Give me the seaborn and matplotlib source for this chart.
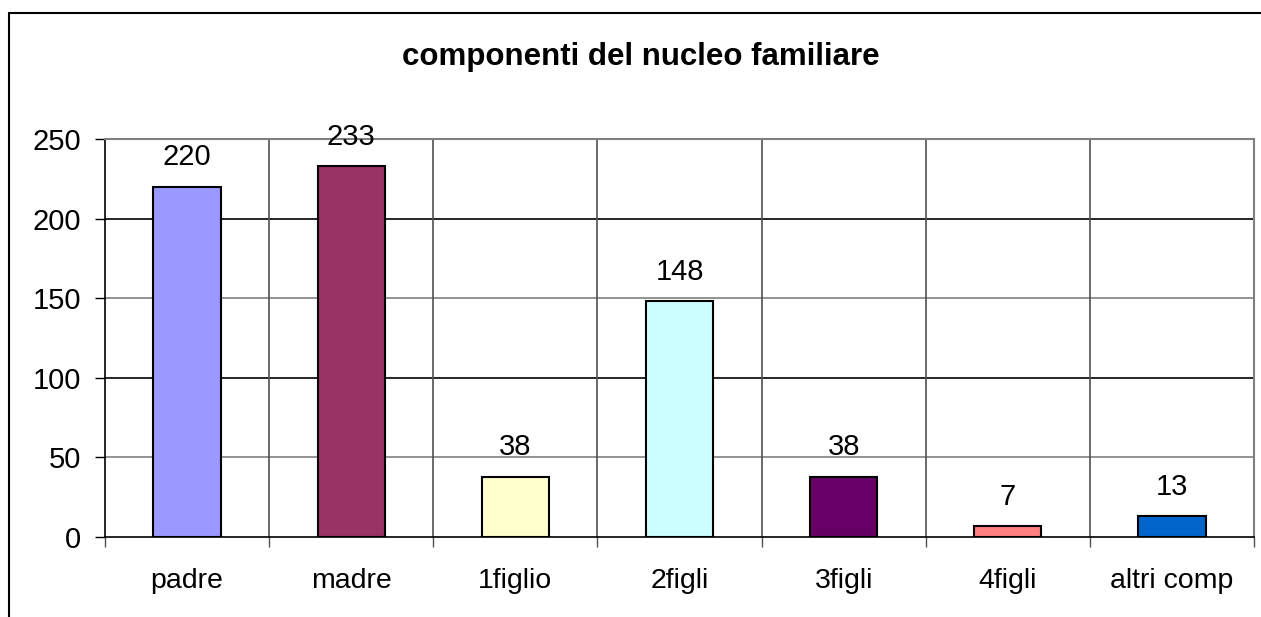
import matplotlib
matplotlib.use("Agg")
import matplotlib.pyplot as plt
import seaborn as sns
import pandas as pd
import numpy as np
from matplotlib.lines import Line2D

categories = ["padre", "madre", "1figlio", "2figli", "3figli", "4figli", "altri comp"]
values = [220, 233, 38, 148, 38, 7, 13]
colors = ["#9999FF", "#993366", "#FFFFCC", "#CCFFFF", "#660066", "#FF8080", "#0066CC"]
yticks = [0, 50, 100, 150, 200, 250]
title = "componenti del nucleo familiare"

sns.set_theme(style="white")
plt.rcParams["font.family"] = ["Liberation Sans", "DejaVu Sans"]
plt.rcParams["text.color"] = "black"
plt.rcParams["xtick.color"] = "black"
plt.rcParams["ytick.color"] = "black"
plt.rcParams["axes.labelcolor"] = "black"

df = pd.DataFrame({"cat": categories, "val": values})

fig = plt.figure(figsize=(12.61, 6.17), dpi=100)
W, H = 1261, 617
ax = fig.add_axes([105 / W, (H - 537) / H, (1254 - 105) / W, (537 - 139) / H])

sns.barplot(data=df, x="cat", y="val", hue="cat", palette=colors, order=categories,
            hue_order=categories, width=0.41, edgecolor="black", linewidth=1.5,
            saturation=1, legend=False, ax=ax, zorder=3)

ax.set_xlim(-0.5, len(categories) - 0.5)
ax.set_ylim(0, 250)
ax.set_yticks(yticks)
ax.set_yticklabels([str(v) for v in yticks], fontsize=21, color="black")
ax.set_xticks(range(len(categories)))
ax.set_xticklabels(categories, fontsize=20.5, color="black")
ax.set_xlabel("")
ax.set_ylabel("")

# horizontal gridlines
for v in yticks[1:]:
    ax.axhline(v, color="black" if v in (100, 200) else "#808080", lw=1.2, zorder=1)
# vertical gridlines at category boundaries
for b in np.arange(0.5, len(categories) - 1, 1.0):
    ax.axvline(b, color="#505050", lw=1.2, zorder=1)

ax.tick_params(axis="x", which="major", length=0, pad=22)
ax.tick_params(axis="y", which="major", length=7, width=1, color="black", pad=10, left=True)
ax.set_xticks(np.arange(-0.5, len(categories), 1.0), minor=True)
ax.tick_params(axis="x", which="minor", length=7, width=1, color="#505050", bottom=True)

for s in ["top", "right"]:
    ax.spines[s].set_color("#808080")
    ax.spines[s].set_linewidth(1.5)
ax.spines["left"].set_color("black")
ax.spines["bottom"].set_color("black")
ax.spines["left"].set_linewidth(1.2)
ax.spines["bottom"].set_linewidth(1.2)

for i, v in enumerate(values):
    ax.annotate(str(v), (i, v), xytext=(0, 11), textcoords="offset points",
                ha="center", va="bottom", fontsize=21, color="black", zorder=5)

fig.text(641 / W, 1 - 57 / H, title, ha="center", va="center", fontsize=22.5,
         fontweight="bold", color="black")

# outer chart frame (left and top edges visible)
fig.add_artist(Line2D([9 / W, 9 / W], [0, 1 - 13 / H], color="black", lw=1.5, transform=fig.transFigure))
fig.add_artist(Line2D([9 / W, 1], [1 - 13 / H, 1 - 13 / H], color="black", lw=1.5, transform=fig.transFigure))

fig.savefig("out.png", dpi=100, facecolor="white")
